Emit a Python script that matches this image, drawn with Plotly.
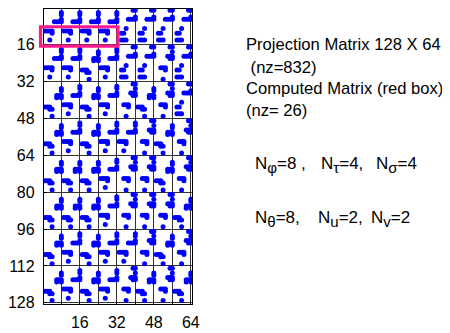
import plotly.graph_objects as go

# ---- data: sparsity pattern of the 128 x 64 projection matrix ----
N_ROWS = 128
N_COLS = 64
BLOCK_ROWS = 16
BLOCK_COLS = 8

# 16x8 block shapes ('#' = nonzero)
TILE_A = [
    "........",
    ".......#",
    ".......#",
    "........",
    ".......#",
    "....####",
    "........",
    "........",
    "........",
    "####....",
    "...#....",
    "........",
    "........",
    "..#.....",
    "........",
    "........",
]
TILE_B = [
    "........",
    "........",
    ".......#",
    ".......#",
    "........",
    ".....###",
    ".....#.#",
    "........",
    "........",
    "........",
    "###.....",
    "..##....",
    "........",
    "........",
    "...#....",
    "........",
]
TILE_C = [
    "......##",
    "........",
    "........",
    ".......#",
    "....####",
    "........",
    "........",
    "........",
    "...#....",
    "........",
    ".##.....",
    "........",
    "........",
    ".###....",
    "........",
    "........",
]
TILE_D = [
    "......##",
    "........",
    ".......#",
    "........",
    ".....###",
    "......##",
    "........",
    "........",
    "........",
    "..###...",
    "....#...",
    "........",
    "........",
    "........",
    "...#....",
    "........",
]
TILES = {"A": TILE_A, "B": TILE_B, "C": TILE_C, "D": TILE_D}

# which shape appears in each (row block, column block)
BLOCK_MAP = [
    "AAAACCCC",
    "AABACCDC",
    "BABADBDC",
    "BABAADBD",
    "BBBADDBD",
    "BBBADDDB",
    "BABAADBD",
    "BABADBDB",
]

X_TICKS = [8, 16, 24, 32, 40, 48, 56, 64]
X_TICK_TEXT = ["", "16", "", "32", "", "48", "", "64"]
Y_TICKS = [16, 32, 48, 64, 80, 96, 112, 128]
Y_TICK_TEXT = ["16", "32", "48", "64", "80", "96", "112", "128"]

# red box (computed sub-matrix) in matrix coordinates
BOX_COLS = (-1.0, 32.5)
BOX_ROWS = (8.2, 16.6)

TEXT_LINES = [
    "Projection Matrix 128 X 64",
    " (nz=832)",
    "Computed Matrix (red box)",
    "(nz= 26)",
]
SUB = '<sub><span style="font-size:15px">{}</span></sub>'
PARAMS_ROW1 = ["N" + SUB.format("φ") + "=8 ,", "N" + SUB.format("τ") + "=4,",
               "N" + SUB.format("σ") + "=4"]
PARAMS_ROW2 = ["N" + SUB.format("θ") + "=8,", "N" + SUB.format("u") + "=2,",
               "N" + SUB.format("v") + "=2"]

# ---- build point lists ----
cols, rows = [], []
for rb, line in enumerate(BLOCK_MAP):
    for cb, key in enumerate(line):
        tile = TILES[key]
        for r, s in enumerate(tile):
            for c, ch in enumerate(s):
                if ch == "#":
                    rows.append(rb * BLOCK_ROWS + r + 1)
                    cols.append(cb * BLOCK_COLS + c + 1)

FONT = "Liberation Sans, Arial, sans-serif"

# page body has an 8px margin, so the figure is laid out in shifted coords
OFF = 8
FIG_W, FIG_H = 450 - OFF, 333 - OFF
L, T = 44 - OFF, 9 - OFF
W_PLOT, H_PLOT = 148, 295

fig = go.Figure()
fig.add_trace(go.Scatter(
    x=cols, y=rows, mode="markers",
    marker=dict(color="#0000ff", size=5.0, line=dict(width=0)),
    hoverinfo="skip", showlegend=False,
))

fig.update_layout(
    width=FIG_W, height=FIG_H,
    margin=dict(l=L, r=FIG_W - L - W_PLOT, t=T, b=FIG_H - T - H_PLOT, pad=0,
                autoexpand=False),
    paper_bgcolor="white", plot_bgcolor="white",
    font=dict(family=FONT, size=15, color="black"),
    showlegend=False,
)
fig.update_xaxes(
    range=[0.5, N_COLS + 0.5], tickvals=X_TICKS, ticktext=X_TICK_TEXT,
    showgrid=True, gridcolor="#333333", gridwidth=1.3,
    showline=True, linecolor="black", linewidth=1.3, mirror=True,
    ticks="inside", ticklen=3, tickcolor="black",
    zeroline=False, ticklabelstandoff=4, automargin=False,
    tickfont=dict(size=16, family=FONT),
)
fig.update_yaxes(
    range=[N_ROWS + 0.5, 0.5], tickvals=Y_TICKS, ticktext=Y_TICK_TEXT,
    showgrid=True, gridcolor="#333333", gridwidth=1.3,
    showline=True, linecolor="black", linewidth=1.3, mirror=True,
    ticks="inside", ticklen=3, tickcolor="black",
    zeroline=False, ticklabelstandoff=5, automargin=False,
    tickfont=dict(size=16, family=FONT),
)

def px(c):
    return (c - 0.5) / N_COLS

def py(r):
    return 1 - (r - 0.5) / N_ROWS

fig.add_shape(
    type="rect", xref="paper", yref="paper",
    x0=px(BOX_COLS[0]), x1=px(BOX_COLS[1]),
    y0=py(BOX_ROWS[0]), y1=py(BOX_ROWS[1]),
    line=dict(color="#ff1a8c", width=3.2), layer="above",
)

def pxp(p):  # page pixel x -> paper
    return (p - OFF - L) / W_PLOT

def pyp(p):  # page pixel y -> paper
    return (T + H_PLOT - (p - OFF)) / H_PLOT

text_y = [45, 68, 88, 110]
for txt, yy in zip(TEXT_LINES, text_y):
    fig.add_annotation(text=txt, xref="paper", yref="paper",
                       x=pxp(246), y=pyp(yy), xanchor="left", yanchor="middle",
                       showarrow=False, borderpad=0, borderwidth=0,
                       font=dict(size=16.6, family=FONT))

row1_x = [255, 321, 376]
row2_x = [255, 318, 371]
for txt, xx in zip(PARAMS_ROW1, row1_x):
    fig.add_annotation(text=txt, xref="paper", yref="paper",
                       x=pxp(xx), y=pyp(165), xanchor="left", yanchor="middle",
                       showarrow=False, borderpad=0, borderwidth=0,
                       font=dict(size=17, family=FONT))
for txt, xx in zip(PARAMS_ROW2, row2_x):
    fig.add_annotation(text=txt, xref="paper", yref="paper",
                       x=pxp(xx), y=pyp(219), xanchor="left", yanchor="middle",
                       showarrow=False, borderpad=0, borderwidth=0,
                       font=dict(size=17, family=FONT))

fig.write_html("out.html")
